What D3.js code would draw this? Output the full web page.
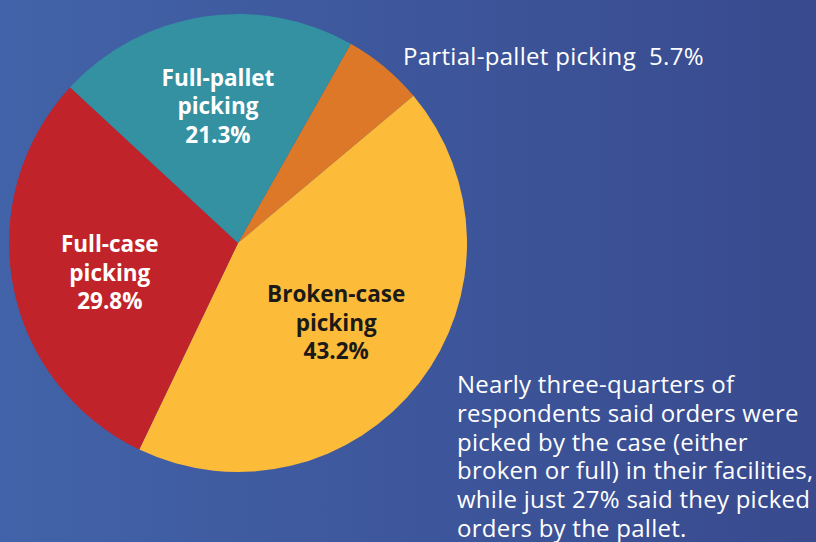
<!DOCTYPE html>
<html>
<head>
<meta charset="utf-8">
<script src="https://cdn.jsdelivr.net/npm/d3@7"></script>
<style>
  html, body { margin: 0; padding: 0; }
  svg { display: block; }
</style>
</head>
<body>
<div id="chart"></div>
<script>
// slices, clockwise starting from the small orange one
var categories = ['Partial-pallet picking', 'Broken-case picking', 'Full-case picking', 'Full-pallet picking'];
var values = [5.7, 43.2, 29.8, 21.3];
var colors = ['#dc7827', '#fdbb3a', '#c0242a', '#3391a1'];
var insideLines = [null, ['Broken-case', 'picking', '43.2%'], ['Full-case', 'picking', '29.8%'], ['Full-pallet', 'picking', '21.3%']];
var note = ['Nearly three-quarters of', 'respondents said orders were', 'picked by the case (either',
    'broken or full) in their facilities,', 'while just 27% said they picked', 'orders by the pallet.'];

var width = 816, height = 542;
var cx = 238, cy = 243, radius = 229;
// small hand nudges for the inside labels
var nudge = [[0, 0], [-5, 0], [0, 5], [0, -8]];

var svg = d3.select('#chart').append('svg')
    .attr('width', width)
    .attr('height', height);

var grad = svg.append('defs').append('linearGradient')
    .attr('id', 'bg')
    .attr('x1', '0%').attr('y1', '0%').attr('x2', '100%').attr('y2', '0%');
grad.append('stop').attr('offset', '0%').attr('stop-color', '#4263a9');
grad.append('stop').attr('offset', '100%').attr('stop-color', '#394a8e');

svg.append('rect')
    .attr('width', width)
    .attr('height', height)
    .attr('fill', 'url(#bg)');

var start = 29.5 * Math.PI / 180;
var pie = d3.pie().sort(null)
    .startAngle(start)
    .endAngle(start + 2 * Math.PI)
    .value(function(d) { return d; });
var arcs = pie(values);

var arc = d3.arc().innerRadius(0).outerRadius(radius);
var labelArc = d3.arc().innerRadius(radius * 0.57).outerRadius(radius * 0.57);

var g = svg.append('g').attr('transform', 'translate(' + cx + ',' + cy + ')');

g.selectAll('path').data(arcs).enter().append('path')
    .attr('d', arc)
    .attr('fill', function(d, i) { return colors[i]; });

var font = '"Open Sans", "Noto Sans", sans-serif';

g.selectAll('text.inside').data(arcs.filter(function(d, i) { return insideLines[i]; }))
    .enter().append('text')
    .attr('class', 'inside')
    .attr('transform', function(d) {
        var c = labelArc.centroid(d);
        return 'translate(' + (c[0] + nudge[d.index][0]) + ',' + (c[1] + nudge[d.index][1]) + ')';
    })
    .attr('text-anchor', 'middle')
    .attr('font-family', font)
    .attr('font-weight', 'bold')
    .attr('font-size', 22.5)
    .attr('fill', function(d) { return d.index === 1 ? '#1c1a17' : '#ffffff'; })
    .each(function(d) {
        var lines = insideLines[d.index];
        d3.select(this).selectAll('tspan').data(lines).enter().append('tspan')
            .attr('x', 0)
            .attr('y', function(t, j) { return (j - 1) * 28.5 + 8; })
            .text(function(t) { return t; });
    });

svg.append('text')
    .attr('x', 403)
    .attr('y', 65)
    .attr('font-family', font)
    .attr('font-size', 24)
    .attr('letter-spacing', 0.3)
    .attr('fill', '#ffffff')
    .attr('xml:space', 'preserve')
    .text(categories[0] + '  ' + values[0] + '%');

svg.append('text')
    .attr('font-family', font)
    .attr('font-size', 24)
    .attr('letter-spacing', 0.25)
    .attr('fill', '#ffffff')
    .selectAll('tspan').data(note).enter().append('tspan')
    .attr('x', 457)
    .attr('y', function(d, i) { return 393 + i * 28.8; })
    .text(function(d) { return d; });
</script>
</body>
</html>
